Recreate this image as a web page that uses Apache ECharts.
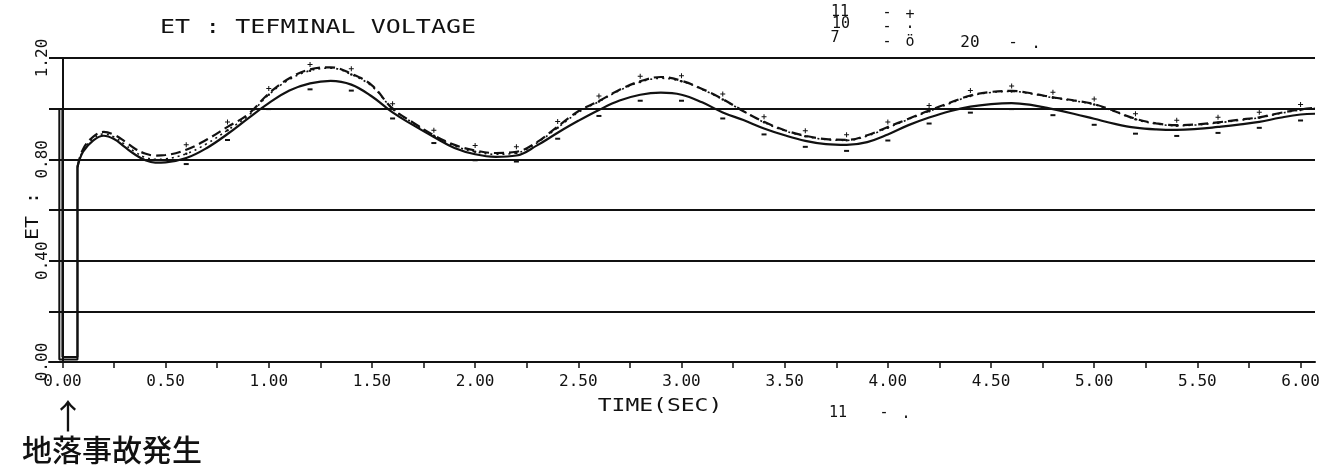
<!DOCTYPE html>
<html><head><meta charset="utf-8">
<script src="https://cdn.jsdelivr.net/npm/echarts@6/dist/echarts.min.js"></script>
<style>html,body{margin:0;padding:0;background:#fff}#c{width:1330px;height:470px}</style>
</head><body><div id="c"></div>
<script>
// ---- data ----
const time = [0.073,0.1,0.15,0.2,0.25,0.3,0.35,0.4,0.45,0.5,
  0.6,0.7,0.8,0.9,1.0,1.1,1.2,1.3,1.4,1.5,
  1.6,1.7,1.8,1.9,2.0,2.1,2.2,2.3,2.4,2.5,
  2.6,2.7,2.8,2.9,3.0,3.1,3.2,3.3,3.4,3.5,
  3.6,3.7,3.8,3.9,4.0,4.1,4.2,4.3,4.4,4.5,
  4.6,4.7,4.8,4.9,5.0,5.1,5.2,5.3,5.4,5.5,
  5.6,5.7,5.8,5.9,6.0,6.07];
const curve11 = [0.77,0.83,0.875,0.893,0.88,0.85,0.82,0.797,0.787,0.788,
  0.805,0.845,0.9,0.962,1.022,1.072,1.1,1.11,1.095,1.048,
  0.985,0.935,0.888,0.845,0.82,0.81,0.815,0.855,0.905,0.952,
  0.995,1.032,1.055,1.063,1.055,1.025,0.985,0.955,0.922,0.895,
  0.873,0.86,0.857,0.868,0.898,0.935,0.965,0.99,1.008,1.018,
  1.022,1.014,0.998,0.98,0.96,0.94,0.925,0.918,0.916,0.92,
  0.928,0.937,0.948,0.964,0.977,0.98];
const curve10 = [0.77,0.84,0.89,0.908,0.897,0.872,0.843,0.823,0.815,0.817,
  0.838,0.878,0.928,0.978,1.06,1.12,1.155,1.163,1.138,1.092,
  1.0,0.945,0.895,0.857,0.835,0.825,0.83,0.868,0.93,0.99,
  1.03,1.075,1.108,1.125,1.11,1.078,1.038,0.99,0.948,0.915,
  0.893,0.88,0.877,0.895,0.928,0.96,0.993,1.023,1.052,1.066,
  1.07,1.06,1.045,1.033,1.018,0.99,0.96,0.942,0.935,0.938,
  0.946,0.956,0.966,0.983,0.997,1.003];
const curve7 = [0.77,0.835,0.883,0.9,0.888,0.86,0.83,0.808,0.8,0.802,
  0.822,0.862,0.915,0.972,1.055,1.115,1.15,1.16,1.135,1.088,
  1.0,0.943,0.893,0.853,0.83,0.82,0.825,0.865,0.925,0.985,
  1.028,1.072,1.105,1.12,1.108,1.076,1.036,0.99,0.946,0.913,
  0.891,0.878,0.875,0.892,0.925,0.958,0.99,1.02,1.05,1.064,
  1.068,1.058,1.043,1.031,1.016,0.988,0.958,0.94,0.933,0.936,
  0.944,0.954,0.964,0.981,0.995,1.001];
// fault transient (drop and recovery)
const faultTimeA = [-0.015,-0.015,0.073,0.073];
const faultA     = [1.0,0.01,0.01,0.77];
const faultTimeB = [0.0,0.0,0.073,0.073];
const faultB     = [1.0,0.02,0.02,0.77];
const xTicks  = [0,0.25,0.5,0.75,1,1.25,1.5,1.75,2,2.25,2.5,2.75,3,3.25,3.5,3.75,4,4.25,4.5,4.75,5,5.25,5.5,5.75,6];
const xLabels = [0,0.5,1,1.5,2,2.5,3,3.5,4,4.5,5,5.5,6];
const yLabels = [0,0.4,0.8,1.2];

const zip = (t, v) => t.map((x, i) => [x, v[i]]);
const INK = '#111';
const MONO = 'DejaVu Sans Mono';
const markSize = (s) => (v, p) => (p.dataIndex >= 9 && p.dataIndex % 2 === 0) ? s : 0;

function txt(x, y, s, o) {
  o = o || {};
  return {
    type: 'text', x: x, y: y, rotation: o.rot || 0,
    scaleX: o.sx || 1, scaleY: o.sy || 1,
    style: {
      text: s, fill: INK,
      font: (o.weight || 'normal') + ' ' + (o.size || 16) + 'px ' + (o.family || MONO),
      textAlign: o.align || 'center', textVerticalAlign: 'middle'
    }
  };
}

const chart = echarts.init(document.getElementById('c'), null, {renderer: 'canvas'});
chart.setOption({
  animation: false,
  backgroundColor: '#fff',
  grid: {left: 49, right: 15, top: 58, bottom: 108},
  xAxis: {
    type: 'value', min: -0.065, max: 6.07,
    axisLine: {show: true, lineStyle: {color: INK, width: 2}},
    axisTick: {show: true, customValues: xTicks, length: 6, lineStyle: {color: INK, width: 1.5}},
    axisLabel: {customValues: xLabels, formatter: v => v.toFixed(2), color: INK,
      fontFamily: MONO, fontSize: 16, margin: 12},
    splitLine: {show: false}
  },
  yAxis: {
    type: 'value', min: 0, max: 1.2, interval: 0.2,
    axisLine: {show: true, onZero: true, lineStyle: {color: INK, width: 2}},
    axisTick: {show: false},
    axisLabel: {customValues: yLabels, formatter: v => v.toFixed(2), rotate: 90, color: INK,
      fontFamily: MONO, fontSize: 16, margin: -2},
    splitLine: {show: true, lineStyle: {color: INK, width: 2}}
  },
  series: [
    {type: 'line', data: zip(faultTimeA, faultA), symbol: 'none', silent: true,
      lineStyle: {color: INK, width: 2}},
    {type: 'line', data: zip(faultTimeB, faultB), symbol: 'none', silent: true,
      lineStyle: {color: INK, width: 2}},
    {name: '11', type: 'line', data: zip(time, curve11), smooth: 0.4,
      symbol: 'rect', symbolSize: markSize([5, 2]), symbolOffset: [0, 6],
      itemStyle: {color: INK}, lineStyle: {color: INK, width: 2.2}},
    {name: '10', type: 'line', data: zip(time, curve10), smooth: 0.4,
      symbol: 'path://M2,0h1v2h2v1h-2v2h-1v-2h-2v-1h2z', symbolSize: markSize(5), symbolOffset: [0, -5],
      itemStyle: {color: INK}, lineStyle: {color: INK, width: 2.2, type: [10, 5]}},
    {name: '7', type: 'line', data: zip(time, curve7), smooth: 0.4,
      symbol: 'circle', symbolSize: markSize(2.5),
      itemStyle: {color: INK}, lineStyle: {color: INK, width: 1.6, type: [2, 4]}}
  ],
  graphic: [
    txt(160, 28, 'ET : TEFMINAL VOLTAGE', {size: 25, sy: 0.8, align: 'left'}),
    txt(34, 216, 'ET :', {size: 20, sy: 0.85, rot: Math.PI / 2}),
    txt(660, 406, 'TIME(SEC)', {size: 23, sy: 0.8}),
    txt(840, 12, '11', {size: 15}),
    txt(841, 24, '10', {size: 15}),
    txt(835, 38, '7', {size: 15}),
    txt(887, 13, '-', {size: 15}),
    txt(887, 27, '-', {size: 15}),
    txt(887, 42, '-', {size: 15}),
    txt(910, 15, '+', {size: 15}),
    txt(910, 28, '·', {size: 15}),
    txt(910, 42, 'ö', {size: 15}),
    txt(970, 43, '20', {size: 16}),
    txt(1013, 43, '-', {size: 16}),
    txt(1036, 44, '.', {size: 16}),
    txt(838, 413, '11', {size: 15}),
    txt(884, 413, '-', {size: 15}),
    txt(906, 414, '.', {size: 15}),
    txt(68, 416, '↑', {size: 34, family: '"Noto Sans CJK JP"'}),
    txt(22, 450, '地落事故発生', {size: 30, weight: 500, family: '"Noto Sans CJK JP"', align: 'left'})
  ]
});
</script></body></html>
